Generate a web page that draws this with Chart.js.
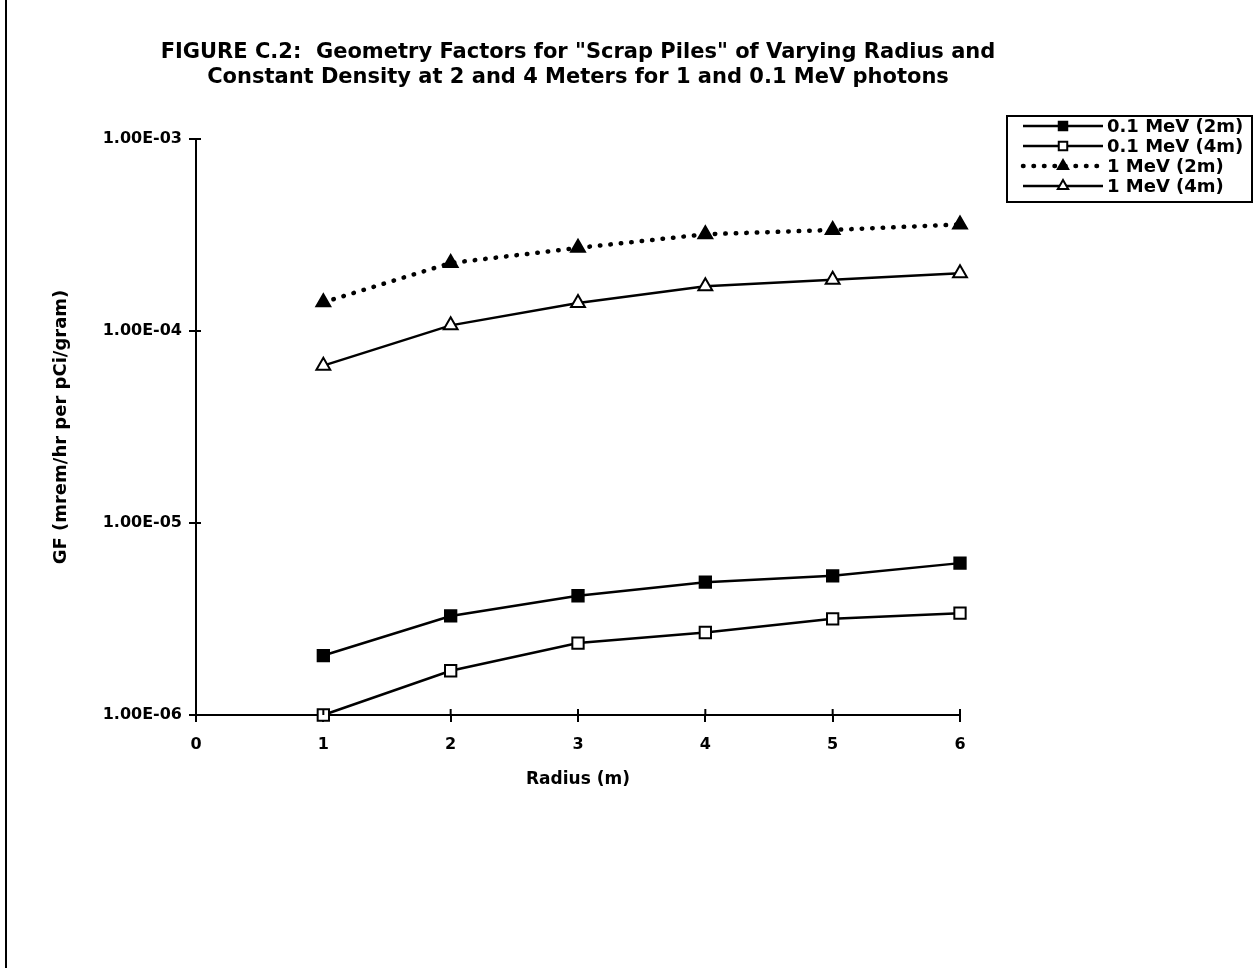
<!DOCTYPE html>
<html><head><meta charset="utf-8">
<script src="https://cdn.jsdelivr.net/npm/chart.js@4"></script>
<style>html,body{margin:0;padding:0;background:#fff;}#wrap{width:1259px;height:968px;position:relative;}canvas{display:block;}</style>
</head><body><div id="wrap"><canvas id="c" width="1259" height="968"></canvas></div>
<script>
const titleLines = ['FIGURE C.2:  Geometry Factors for "Scrap Piles" of Varying Radius and', 'Constant Density at 2 and 4 Meters for 1 and 0.1 MeV photons'];
const radius = [1, 2, 3, 4, 5, 6];
const seriesNames = ['0.1 MeV (2m)', '0.1 MeV (4m)', '1 MeV (2m)', '1 MeV (4m)'];
const gf01MeV2m = [2.04e-6, 3.28e-6, 4.18e-6, 4.92e-6, 5.31e-6, 6.18e-6];
const gf01MeV4m = [1.00e-6, 1.70e-6, 2.37e-6, 2.69e-6, 3.17e-6, 3.39e-6];
const gf1MeV2m = [1.41e-4, 2.26e-4, 2.71e-4, 3.19e-4, 3.36e-4, 3.59e-4];
const gf1MeV4m = [6.6e-5, 1.07e-4, 1.40e-4, 1.71e-4, 1.85e-4, 2.00e-4];
const xTicks = [0, 1, 2, 3, 4, 5, 6];
const yTicks = [1e-6, 1e-5, 1e-4, 1e-3];
const yTickLabels = ['1.00E-06', '1.00E-05', '1.00E-04', '1.00E-03'];
const xTitle = 'Radius (m)';
const yTitle = 'GF (mrem/hr per pCi/gram)';

const FONT = '"DejaVu Sans", "Liberation Sans", Arial, sans-serif';
const pts = arr => radius.map((r, i) => ({x: r, y: arr[i]}));

function drawMarker(ctx, style, filled, x, y, r) {
  ctx.save();
  ctx.beginPath();
  if (style === 'rect') {
    const s = r / Math.SQRT2;
    ctx.rect(x - s, y - s, 2 * s, 2 * s);
  } else {
    const h = r * Math.sqrt(3) / 2;
    ctx.moveTo(x, y - r);
    ctx.lineTo(x + h, y + r / 2);
    ctx.lineTo(x - h, y + r / 2);
    ctx.closePath();
  }
  ctx.fillStyle = filled ? '#000' : '#fff';
  ctx.fill();
  ctx.lineWidth = 2;
  ctx.strokeStyle = '#000';
  ctx.setLineDash([]);
  ctx.stroke();
  ctx.restore();
}

const decor = {
  id: 'decor',
  afterDraw(chart) {
    const ctx = chart.ctx;
    const ca = chart.chartArea;
    const xs = chart.scales.x, ys = chart.scales.y;
    ctx.save();
    ctx.strokeStyle = '#000';
    ctx.lineWidth = 2;
    ctx.beginPath(); ctx.moveTo(6, 0); ctx.lineTo(6, chart.height); ctx.stroke();
    xTicks.forEach(v => { if (v === 0) return; const px = xs.getPixelForValue(v); ctx.beginPath(); ctx.moveTo(px, ca.bottom); ctx.lineTo(px, ca.bottom - 6); ctx.stroke(); });
    yTicks.forEach(v => { const py = ys.getPixelForValue(v); ctx.beginPath(); ctx.moveTo(ca.left, py); ctx.lineTo(ca.left + 5, py); ctx.stroke(); });
    ctx.fillStyle = '#000';
    ctx.font = 'bold 21px ' + FONT;
    ctx.textAlign = 'center';
    ctx.textBaseline = 'middle';
    const cx = (ca.left + ca.right) / 2;
    ctx.fillText(titleLines[0], cx, 53);
    ctx.fillText(titleLines[1], cx, 78);
    const lx = 1007, ly = 116, lw = 245, lh = 86;
    ctx.lineWidth = 2;
    ctx.strokeRect(lx, ly, lw, lh);
    ctx.font = 'bold 18px ' + FONT;
    ctx.textAlign = 'left';
    chart.data.datasets.forEach((ds, i) => {
      const y = ly + 10 + i * 20;
      ctx.save();
      ctx.lineWidth = ds.borderWidth;
      ctx.lineCap = ds.borderCapStyle || 'butt';
      ctx.setLineDash(ds.borderDash || []);
      ctx.beginPath(); ctx.moveTo(1023, y); ctx.lineTo(1103, y); ctx.stroke();
      ctx.restore();
      drawMarker(ctx, ds.pointStyle, ds.pointBackgroundColor === '#000', 1063, y, 6);
      ctx.fillStyle = '#000';
      ctx.fillText(ds.label, 1107, y + 1);
    });
    ctx.restore();
  }
};

const mk = (label, data, style, filled, dotted) => ({
  label, data: pts(data),
  borderColor: '#000', borderWidth: dotted ? 4.5 : 2.5,
  borderDash: dotted ? [0.5, 10] : [], borderCapStyle: dotted ? 'round' : 'butt',
  pointStyle: style, pointRadius: 8, pointHoverRadius: 8,
  pointBackgroundColor: filled ? '#000' : '#fff', pointBorderColor: '#000', pointBorderWidth: 2,
  tension: 0, clip: false, fill: false
});

new Chart(document.getElementById('c'), {
  type: 'line',
  data: {
    datasets: [
      mk(seriesNames[0], gf01MeV2m, 'rect', true, false),
      mk(seriesNames[1], gf01MeV4m, 'rect', false, false),
      mk(seriesNames[2], gf1MeV2m, 'triangle', true, true),
      mk(seriesNames[3], gf1MeV4m, 'triangle', false, false)
    ]
  },
  options: {
    responsive: false,
    animation: false,
    events: [],
    layout: {padding: {top: 139, right: 299, left: 0, bottom: 0}},
    plugins: {legend: {display: false}, title: {display: false}, tooltip: {enabled: false}},
    scales: {
      x: {
        type: 'linear', min: 0, max: 6,
        afterBuildTicks: s => { s.ticks = xTicks.map(v => ({value: v})); },
        afterFit: s => { s.height = 253; },
        ticks: {color: '#000', font: {family: FONT, weight: 'bold', size: 16}, padding: 13, maxRotation: 0, autoSkip: false},
        grid: {display: true, drawOnChartArea: false, drawTicks: true, tickLength: 7, color: '#000', lineWidth: 2},
        border: {display: true, color: '#000', width: 2},
        title: {display: true, text: xTitle, color: '#000', font: {family: FONT, weight: 'bold', size: 17}, padding: {top: 0, bottom: 178}}
      },
      y: {
        type: 'logarithmic', min: 1e-6, max: 1e-3,
        afterBuildTicks: s => { s.ticks = yTicks.map(v => ({value: v, major: true})); },
        afterFit: s => { s.width = 196; },
        ticks: {color: '#000', font: {family: FONT, weight: 'bold', size: 16}, padding: 7, autoSkip: false,
          callback: (v) => { const i = yTicks.indexOf(v); return i >= 0 ? yTickLabels[i] : ''; }},
        grid: {display: true, drawOnChartArea: false, drawTicks: true, tickLength: 7, color: '#000', lineWidth: 2},
        border: {display: true, color: '#000', width: 2},
        title: {display: true, text: yTitle, color: '#000', font: {family: FONT, weight: 'bold', size: 18}, padding: {top: 51, bottom: 0}}
      }
    }
  },
  plugins: [decor]
});
</script></body></html>
